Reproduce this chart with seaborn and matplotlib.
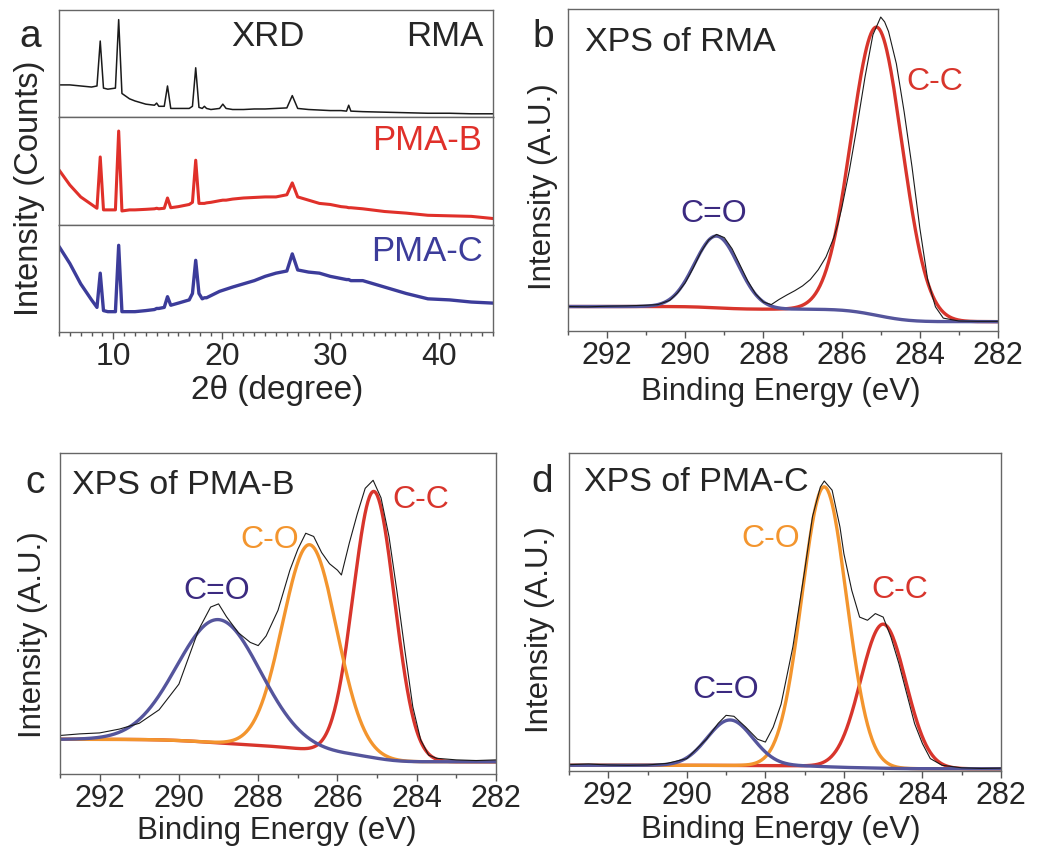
import numpy as np
import seaborn as sns
from matplotlib import pyplot as plt
from matplotlib.ticker import MultipleLocator

# ---- panel a : XRD (each trace normalised to its own strip, 0..1)
two_theta = [5, 6, 7, 8, 8.5, 8.8, 9.1, 9.5, 10.2, 10.5, 10.8, 11.5, 12, 13, 13.8,
             14.0, 14.2, 14.7, 15.0, 15.3, 16, 17, 17.3, 17.6, 17.9, 18.2, 18.4, 18.6,
             19, 19.8, 20.1, 20.4, 21, 22, 23, 24, 25, 26, 26.5, 27, 28, 29, 30, 31,
             31.5, 31.7, 31.9, 33, 35, 37, 39, 41, 43, 45]
xrd_rma = [0.30, 0.30, 0.29, 0.28, 0.29, 0.71, 0.27, 0.26, 0.27, 0.91, 0.22, 0.17, 0.15,
           0.12, 0.11, 0.13, 0.10, 0.10, 0.29, 0.08, 0.08, 0.08, 0.10, 0.46, 0.09, 0.08,
           0.10, 0.08, 0.07, 0.08, 0.12, 0.08, 0.07, 0.07, 0.075, 0.075, 0.08, 0.085,
           0.20, 0.08, 0.07, 0.065, 0.06, 0.06, 0.055, 0.11, 0.055, 0.05, 0.045, 0.04,
           0.035, 0.035, 0.03, 0.03]
xrd_pmab = [0.51, 0.37, 0.26, 0.19, 0.155, 0.63, 0.14, 0.14, 0.14, 0.87, 0.13, 0.14, 0.14,
            0.145, 0.15, 0.155, 0.15, 0.155, 0.25, 0.16, 0.17, 0.19, 0.21, 0.60, 0.20, 0.20,
            0.20, 0.205, 0.21, 0.225, 0.23, 0.23, 0.24, 0.25, 0.255, 0.26, 0.26, 0.28,
            0.39, 0.26, 0.23, 0.20, 0.19, 0.17, 0.165, 0.16, 0.16, 0.15, 0.125, 0.11,
            0.09, 0.085, 0.08, 0.06]
xrd_pmac = [0.80, 0.64, 0.45, 0.30, 0.23, 0.55, 0.20, 0.19, 0.19, 0.81, 0.19, 0.19, 0.19,
            0.20, 0.21, 0.22, 0.22, 0.23, 0.33, 0.25, 0.27, 0.30, 0.36, 0.67, 0.36, 0.31,
            0.32, 0.32, 0.34, 0.38, 0.39, 0.40, 0.42, 0.45, 0.48, 0.52, 0.55, 0.57, 0.73,
            0.58, 0.56, 0.55, 0.52, 0.50, 0.49, 0.49, 0.48, 0.48, 0.42, 0.36, 0.31, 0.30,
            0.28, 0.27]

# ---- panel b : XPS of RMA
b_energy = [293.0, 292.5, 292.0, 291.5, 291.0, 290.7, 290.4, 290.2, 290.0, 289.8, 289.6,
            289.4, 289.2, 289.0, 288.8, 288.6, 288.4, 288.2, 288.0, 287.8, 287.6, 287.4,
            287.2, 287.0, 286.8, 286.6, 286.4, 286.2, 286.1, 286.0, 285.8, 285.6, 285.4,
            285.2, 285.0, 284.9, 284.8, 284.6, 284.4, 284.2, 284.0, 283.8, 283.6, 283.4,
            283.0, 282.5, 282.0]
b_counts = [0.076, 0.075, 0.077, 0.078, 0.080, 0.082, 0.095, 0.118, 0.150, 0.195, 0.245,
            0.283, 0.300, 0.290, 0.255, 0.205, 0.155, 0.115, 0.090, 0.082, 0.098, 0.112,
            0.125, 0.140, 0.160, 0.190, 0.230, 0.290, 0.330, 0.380, 0.500, 0.640, 0.790,
            0.920, 0.975, 0.960, 0.930, 0.830, 0.680, 0.510, 0.320, 0.160, 0.075, 0.040,
            0.031, 0.030, 0.030]
b_peaks = ["C=O", "C-C"]
b_center = [289.2, 285.1]
b_height = [0.223, 0.895]
b_sigma = [0.56, 0.65]
b_bg = (0.076, 0.029)

# ---- panel c : XPS of PMA-B
c_energy = [293.0, 292.5, 292.0, 291.5, 291.0, 290.5, 290.0, 289.5, 289.2, 289.0, 288.8,
            288.5, 288.2, 288.0, 287.8, 287.5, 287.2, 287.0, 286.8, 286.6, 286.4, 286.2,
            286.0, 285.9, 285.7, 285.5, 285.3, 285.1, 284.9, 284.7, 284.5, 284.3, 284.1,
            283.9, 283.7, 283.5, 283.0, 282.5, 282.0]
c_counts = [0.120, 0.125, 0.128, 0.140, 0.158, 0.200, 0.280, 0.450, 0.520, 0.530, 0.490,
            0.440, 0.410, 0.400, 0.430, 0.510, 0.635, 0.700, 0.750, 0.740, 0.690, 0.655,
            0.635, 0.620, 0.720, 0.810, 0.890, 0.915, 0.860, 0.740, 0.570, 0.386, 0.210,
            0.106, 0.059, 0.049, 0.044, 0.042, 0.044]
c_peaks = ["C=O", "C-O", "C-C"]
c_center = [289.0, 286.7, 285.08]
c_height = [0.384, 0.64, 0.83]
c_sigma = [1.05, 0.68, 0.52]
c_bg = (0.108, 0.038)

# ---- panel d : XPS of PMA-C
d_energy = [293.0, 292.5, 292.0, 291.5, 291.0, 290.5, 290.0, 289.5, 289.2, 289.0, 288.8,
            288.5, 288.2, 288.0, 287.8, 287.6, 287.3, 287.0, 286.8, 286.6, 286.5, 286.3,
            286.1, 286.0, 285.8, 285.6, 285.4, 285.2, 285.0, 284.8, 284.6, 284.4, 284.2,
            284.0, 283.8, 283.5, 283.0, 282.5, 282.0]
d_counts = [0.020, 0.022, 0.019, 0.018, 0.019, 0.024, 0.039, 0.100, 0.150, 0.175, 0.172,
            0.138, 0.100, 0.091, 0.138, 0.210, 0.390, 0.630, 0.800, 0.893, 0.912, 0.883,
            0.767, 0.683, 0.568, 0.484, 0.474, 0.495, 0.484, 0.420, 0.338, 0.243, 0.149,
            0.086, 0.039, 0.018, 0.010, 0.008, 0.009]
d_peaks = ["C=O", "C-O", "C-C"]
d_center = [288.9, 286.5, 285.0]
d_height = [0.143, 0.88, 0.453]
d_sigma = [0.58, 0.57, 0.575]
d_bg = (0.018, 0.007)

peak_color = {"C=O": "#55559c", "C-O": "#f3952e", "C-C": "#d8352c"}
text_color = {"C=O": "#3b2a80", "C-O": "#f3952e", "C-C": "#d8352c"}

sns.set_style("ticks")
plt.rcParams['font.family'] = ['Liberation Sans', 'DejaVu Sans']

W, H = 1038, 861
fig = plt.figure(figsize=(W / 100, H / 100), dpi=100)


def box(left, top, right, bottom):
    return [left / W, 1 - bottom / H, (right - left) / W, (bottom - top) / H]


def ftext(x, y, s, **kw):
    fig.text(x / W, 1 - y / H, s, **kw)


def style(ax, size):
    for sp in ax.spines.values():
        sp.set_color("#666666")
        sp.set_linewidth(1.0)
    ax.set_yticks([])
    ax.tick_params(axis="x", which="major", direction="out", length=5, width=1,
                   color="#555555", labelsize=size, pad=2)
    ax.tick_params(axis="x", which="minor", direction="out", length=3, width=1,
                   color="#555555")
    ax.set_xlabel("")
    ax.set_ylabel("")


# ---------- panel a
strips = [(10, 117, xrd_rma, "#1a1a1a", 1.1), (117, 225, xrd_pmab, "#e0302a", 2.2),
          (225, 332, xrd_pmac, "#3c3c9a", 2.4)]
xrd_axes = []
for top, bottom, counts, col, lw in strips:
    ax = fig.add_axes(box(59, top, 493, bottom))
    sns.lineplot(x=two_theta, y=counts, ax=ax, color=col, lw=lw)
    ax.set_xlim(5, 45)
    ax.set_ylim(0, 1)
    ax.xaxis.set_major_locator(MultipleLocator(10))
    ax.xaxis.set_minor_locator(MultipleLocator(1))
    style(ax, 23)
    xrd_axes.append(ax)
for ax in xrd_axes[:2]:
    ax.tick_params(axis="x", which="both", bottom=False, labelbottom=False)
xrd_axes[0].text(24.3, 0.75, "XRD", fontsize=25, ha="center", va="center")
xrd_axes[0].text(44.1, 0.75, "RMA", fontsize=25, ha="right", va="center")
xrd_axes[1].text(44.0, 0.78, "PMA-B", fontsize=25, ha="right", va="center", color="#e0302a")
xrd_axes[2].text(44.1, 0.75, "PMA-C", fontsize=25, ha="right", va="center", color="#3c3c9a")


# ---------- XPS panels
def xps_panel(rect, energy, counts, names, centers, heights, sigmas, bg, title,
              label_pos, draw_order):
    ax = fig.add_axes(rect)
    e = np.linspace(293, 282, 600)
    comps = [h * np.exp(-(e - c) ** 2 / (2 * s ** 2))
             for c, h, s in zip(centers, heights, sigmas)]
    total = np.sum(comps, axis=0)
    cum = np.cumsum(total[::-1])[::-1]
    base = bg[1] + (bg[0] - bg[1]) * cum / cum[0]
    for i in draw_order:
        sns.lineplot(x=e, y=base + comps[i], ax=ax, color=peak_color[names[i]], lw=2.4)
    sns.lineplot(x=energy, y=counts, ax=ax, color="#1a1a1a", lw=0.8)
    ax.set_xlim(293, 282)
    ax.set_ylim(0, 1)
    ax.xaxis.set_major_locator(MultipleLocator(2))
    ax.xaxis.set_minor_locator(MultipleLocator(1))
    style(ax, 22)
    ax.text(title[0], title[1], title[2], transform=ax.transAxes, fontsize=24.5,
            ha="left", va="center")
    for name, (x, y) in zip(names, label_pos):
        ax.text(x, y, name, fontsize=23, ha="center", va="center", color=text_color[name])
    return ax


xps_panel(box(568, 9, 998, 331), b_energy, b_counts, b_peaks, b_center, b_height,
          b_sigma, b_bg, (0.04, 0.897, "XPS of RMA"),
          [(289.27, 0.363), (283.61, 0.773)], [1, 0])
xps_panel(box(60, 453, 496, 774), c_energy, c_counts, c_peaks, c_center, c_height,
          c_sigma, c_bg, (0.028, 0.90, "XPS of PMA-B"),
          [(289.04, 0.570), (287.70, 0.729), (283.89, 0.854)], [2, 1, 0])
xps_panel(box(569, 453, 1001, 771), d_energy, d_counts, d_peaks, d_center, d_height,
          d_sigma, d_bg, (0.035, 0.906, "XPS of PMA-C"),
          [(289.0, 0.255), (287.86, 0.73), (284.57, 0.569)], [2, 1, 0])

# ---------- figure level labels
for x, y, s in [(30, 47, "a"), (543, 47, "b"), (35, 493, "c"), (542, 492, "d")]:
    ftext(x, y, s, fontsize=28, ha="center", va="baseline")
for x, y, s, fs in [(30, 188, "Intensity (Counts)", 23.5), (543, 187, "Intensity (A.U.)", 22.5),
                    (33, 635, "Intensity (A.U.)", 22.5), (540, 630, "Intensity (A.U.)", 22.5)]:
    ftext(x, y, s, fontsize=fs, ha="center", va="center", rotation=90)
for x, y, s, fs in [(277, 390, "2θ (degree)", 24), (781, 392, "Binding Energy (eV)", 22.5),
                    (277, 831, "Binding Energy (eV)", 22.5),
                    (781, 830, "Binding Energy (eV)", 22.5)]:
    ftext(x, y, s, fontsize=fs, ha="center", va="center")

fig.savefig("out.png", dpi=100)
